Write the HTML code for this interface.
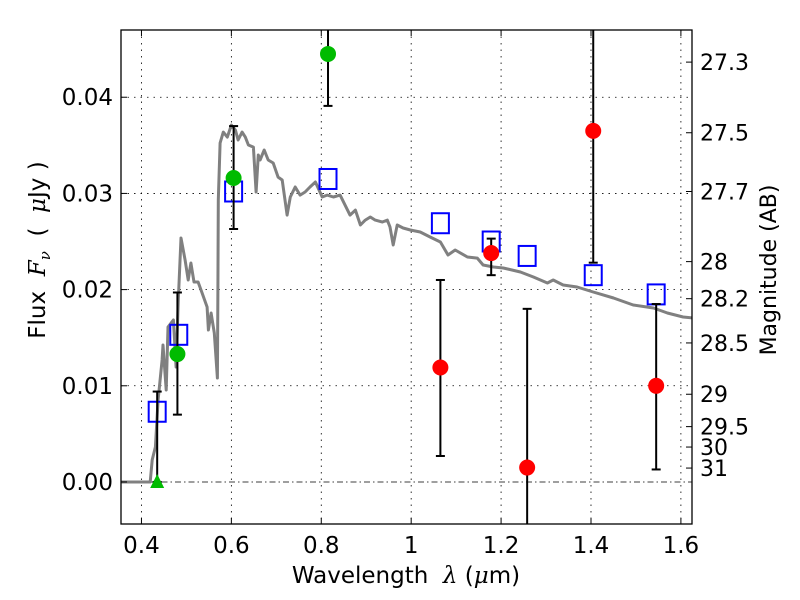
<!DOCTYPE html>
<html><head><meta charset="utf-8">
<style>
html,body{margin:0;padding:0;background:#fff;}
svg{display:block;font-family:"DejaVu Sans","Liberation Sans",sans-serif;}
</style></head>
<body>
<svg id="chart" width="800" height="600" viewBox="0 0 800 600">
  <rect x="0" y="0" width="800" height="600" fill="#fff"/>
  <g id="grid"></g>
  <g id="marks"></g>
  <rect x="121" y="30" width="571" height="494" fill="none" stroke="#000" stroke-width="1.3"/>
  <g id="axes"></g>
  <text x="406" y="583" font-size="23" text-anchor="middle" xml:space="preserve">Wavelength  <tspan font-style="italic" font-family="DejaVu Serif, serif">λ</tspan> (<tspan font-style="italic" font-family="DejaVu Serif, serif">μ</tspan>m)</text>
  <text transform="translate(45,250) rotate(-90)" font-size="23" text-anchor="middle" xml:space="preserve">Flux  <tspan font-style="italic" font-family="DejaVu Serif, serif">F</tspan><tspan font-style="italic" font-family="DejaVu Serif, serif" font-size="15" dy="5">ν</tspan><tspan dy="-5">  (  </tspan><tspan font-style="italic" font-family="DejaVu Serif, serif">μ</tspan>Jy )</text>
  <text transform="translate(776,270) rotate(-90)" font-size="22" text-anchor="middle">Magnitude (AB)</text>
</svg>
<script>
// ---- data ----
const xTicks = [0.4, 0.6, 0.8, 1.0, 1.2, 1.4, 1.6];
const xTickLabels = ["0.4", "0.6", "0.8", "1", "1.2", "1.4", "1.6"];
const yTicks = [0.00, 0.01, 0.02, 0.03, 0.04];
const yTickLabels = ["0.00", "0.01", "0.02", "0.03", "0.04"];
const magTicks = [27.3, 27.5, 27.7, 28, 28.2, 28.5, 29, 29.5, 30, 31];
const magTickLabels = ["27.3", "27.5", "27.7", "28", "28.2", "28.5", "29", "29.5", "30", "31"];

const specWave = [0.355,0.4195,0.424,0.431,0.437,0.446,0.448,0.455,0.459,0.471,0.477,0.482,0.488,0.497,0.504,0.51,0.517,0.526,0.535,0.546,0.549,0.555,0.562,0.569,0.570,0.571,0.575,0.582,0.591,0.6,0.609,0.615,0.624,0.631,0.638,0.649,0.655,0.66,0.664,0.673,0.682,0.693,0.704,0.713,0.724,0.731,0.742,0.753,0.764,0.775,0.787,0.802,0.813,0.827,0.842,0.864,0.876,0.887,0.898,0.909,0.92,0.936,0.947,0.953,0.96,0.969,0.982,0.998,1.02,1.042,1.065,1.082,1.098,1.125,1.147,1.16,1.183,1.205,1.243,1.272,1.303,1.316,1.338,1.369,1.405,1.45,1.494,1.539,1.57,1.605,1.627];
const specFlux = [0,0,0.00229,0.00364,0.00852,0.01268,0.01424,0.00956,0.01611,0.01684,0.01195,0.01892,0.02536,0.02308,0.021,0.02277,0.02079,0.02079,0.01965,0.01819,0.0158,0.01757,0.01549,0.01081,0.0200,0.02931,0.03524,0.03638,0.03586,0.03711,0.03659,0.03555,0.03638,0.03586,0.03503,0.03482,0.03015,0.03399,0.03347,0.03451,0.03347,0.03316,0.0317,0.03139,0.02775,0.02963,0.03067,0.02983,0.03015,0.03067,0.03119,0.02963,0.02983,0.02963,0.02983,0.02775,0.02827,0.02672,0.02723,0.02755,0.02723,0.02703,0.02723,0.02651,0.02464,0.02672,0.0264,0.0262,0.02599,0.02547,0.02495,0.0236,0.02412,0.02339,0.02328,0.02256,0.02235,0.02225,0.02183,0.02131,0.02069,0.02100,0.02048,0.02027,0.01975,0.01913,0.0184,0.01809,0.01757,0.01715,0.01705];

const sqWave = [0.435, 0.483, 0.605, 0.815, 1.065, 1.178, 1.258, 1.405, 1.545];
const sqFlux = [0.0073, 0.0153, 0.0302, 0.0315, 0.0269, 0.0250, 0.0235, 0.0215, 0.0195];

const greenWave = [0.48, 0.605, 0.815];
const greenFlux = [0.0133, 0.0316, 0.0445];
const greenLo = [0.0070, 0.0263, 0.0391];
const greenHi = [0.0197, 0.0370, 0.0520];

const triWave = [0.435];
const triFlux = [0.0];
const triLo = [0.0];
const triHi = [0.0094];

const redWave = [1.065, 1.178, 1.258, 1.405, 1.545];
const redFlux = [0.0119, 0.0238, 0.0015, 0.0365, 0.0100];
const redLo = [0.0027, 0.0215, -0.0100, 0.0228, 0.0013];
const redHi = [0.0210, 0.0253, 0.0180, 0.0520, 0.0185];

// ---- axes ----
const X0 = 121, X1 = 692, Y0 = 30, Y1 = 524;
const xmin = 0.3545, xmax = 1.6247, ymin = -0.00437, ymax = 0.04699;
const sx = v => X0 + (v - xmin) / (xmax - xmin) * (X1 - X0);
const sy = v => Y1 - (v - ymin) / (ymax - ymin) * (Y1 - Y0);
const magToFlux = m => Math.pow(10, (23.9 - m) / 2.5);

const NS = "http://www.w3.org/2000/svg";
function mk(tag, attrs, parent) {
  const e = document.createElementNS(NS, tag);
  for (const k in attrs) e.setAttribute(k, attrs[k]);
  parent.appendChild(e);
  return e;
}
const grid = document.getElementById('grid');
const marks = document.getElementById('marks');
const axes = document.getElementById('axes');

xTicks.forEach((t, i) => {
  const x = sx(t);
  const g = mk('line', {x1: x, x2: x, y1: Y0, y2: Y1, stroke: '#000', 'stroke-width': 0.8, 'stroke-dasharray': '1.5,5'}, grid);
  
  
  mk('line', {x1: x, x2: x, y1: Y1, y2: Y1 - 6, stroke: '#000', 'stroke-width': 1}, axes);
  mk('line', {x1: x, x2: x, y1: Y0, y2: Y0 + 6, stroke: '#000', 'stroke-width': 1}, axes);
  const tx = mk('text', {x: x, y: 553, 'font-size': 23, 'text-anchor': 'middle'}, axes);
  tx.textContent = xTickLabels[i];
  
  
});
yTicks.forEach((t, i) => {
  const y = sy(t);
  const g = mk('line', {x1: X0, x2: X1, y1: y, y2: y, stroke: '#000', 'stroke-width': 0.8, 'stroke-dasharray': t === 0 ? '6,3,1.5,3' : '1.5,5'}, grid);
  
  
  mk('line', {x1: X0, x2: X0 + 6, y1: y, y2: y, stroke: '#000', 'stroke-width': 1}, axes);
  const tx = mk('text', {x: 113, y: y + 8, 'font-size': 23, 'text-anchor': 'end'}, axes);
  tx.textContent = yTickLabels[i];
  
  
});
magTicks.forEach((m, i) => {
  const y = sy(magToFlux(m));
  mk('line', {x1: X1, x2: X1 - 6, y1: y, y2: y, stroke: '#000', 'stroke-width': 1}, axes);
  const tx = mk('text', {x: 700, y: y + 8, 'font-size': 22, 'text-anchor': 'start'}, axes);
  tx.textContent = magTickLabels[i];
  
  
});

const defs = mk('defs', {}, marks);
const cp = mk('clipPath', {id: 'clip'}, defs);
mk('rect', {x: X0, y: Y0, width: X1 - X0, height: Y1 - Y0}, cp);
const plot = mk('g', {'clip-path': 'url(#clip)'}, marks);

const d = specWave.map((w, i) => (i ? 'L' : 'M') + sx(w).toFixed(1) + ',' + sy(specFlux[i]).toFixed(1)).join(' ');
const sp = mk('path', {d: d, fill: 'none', stroke: '#808080', 'stroke-width': 3, 'stroke-linejoin': 'round'}, plot);



function errbar(w, lo, hi, name) {
  const x = sx(w);
  const l = mk('line', {x1: x, x2: x, y1: sy(lo), y2: sy(hi), stroke: '#000', 'stroke-width': 2}, plot);
  
  
  mk('line', {x1: x - 4.5, x2: x + 4.5, y1: sy(lo), y2: sy(lo), stroke: '#000', 'stroke-width': 2}, plot);
  mk('line', {x1: x - 4.5, x2: x + 4.5, y1: sy(hi), y2: sy(hi), stroke: '#000', 'stroke-width': 2}, plot);
}

sqWave.forEach((w, i) => {
  const r = mk('rect', {x: sx(w) - 8.5, y: sy(sqFlux[i]) - 10, width: 17, height: 20, fill: 'none', stroke: '#0000ff', 'stroke-width': 2}, plot);
  
  
});

greenWave.forEach((w, i) => {
  errbar(w, greenLo[i], greenHi[i], 'green-error-bar');
  const c = mk('circle', {cx: sx(w), cy: sy(greenFlux[i]), r: 8, fill: '#00bb00'}, plot);
  
  
});
triWave.forEach((w, i) => {
  errbar(w, triLo[i], triHi[i], 'triangle-error-bar');
  const x = sx(w), y = sy(triFlux[i]);
  const t = mk('polygon', {points: `${x},${y - 8} ${x - 7},${y + 6} ${x + 7},${y + 6}`, fill: '#00bb00'}, plot);
  
  
});
redWave.forEach((w, i) => {
  errbar(w, redLo[i], redHi[i], 'red-error-bar');
  const c = mk('circle', {cx: sx(w), cy: sy(redFlux[i]), r: 8, fill: '#ff0000'}, plot);
  
  
});
</script>
</body></html>
